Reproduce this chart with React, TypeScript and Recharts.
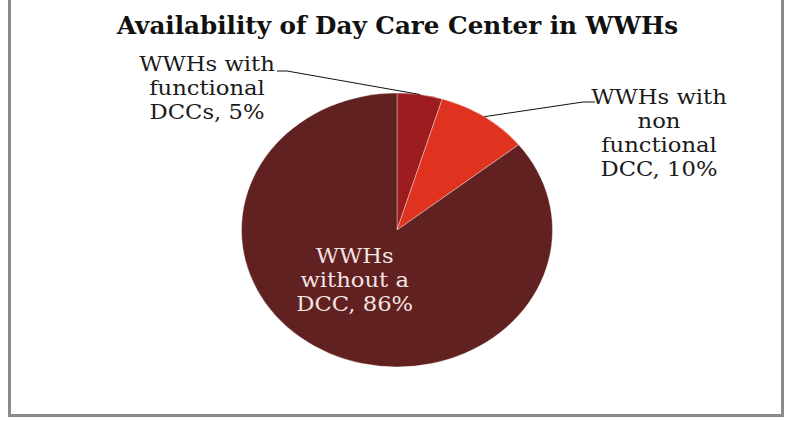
import React from 'react';
import { Pie, PieChart } from 'recharts';

// slice data (clockwise from 12 o'clock)
const SLICE_NAMES = ['WWHs with functional DCCs', 'WWHs with non functional DCC', 'WWHs without a DCC'];
const SLICE_VALUES = [4.7, 9.6, 85.7];
const SLICE_COLORS = ['#9c1c20', '#df3320', '#612120'];
// how each label is broken into lines (last line gets the percent appended)
const LABEL_LINES = [
  ['WWHs with', 'functional', 'DCCs'],
  ['WWHs with', 'non', 'functional', 'DCC'],
  ['WWHs', 'without a', 'DCC'],
];
const TITLE = 'Availability of Day Care Center in WWHs';

const WIDTH = 802;
const HEIGHT = 421;
const STRETCH = 1.135; // the source image is stretched horizontally
const RAD = Math.PI / 180;
const FONT = '"DejaVu Serif", serif';
const LINE_GAP = 24;

// where the labels sit; leader lines start at the slice edge (midAngle)
const LABEL_LAYOUT = [
  { inside: false, textX: 207, firstBaseline: 71, elbowFrom: 277, elbowTo: 287, elbowY: 71 },
  { inside: false, textX: 659, firstBaseline: 104, elbowFrom: 595, elbowTo: 583, elbowY: 102 },
  { inside: true, radiusFrac: 0.455, angleShift: -11 },
];

const data = SLICE_NAMES.map((name, i) => ({
  name,
  value: SLICE_VALUES[i],
  fill: SLICE_COLORS[i],
}));

function ellipsePoint(cx: number, cy: number, r: number, angle: number) {
  return {
    x: cx + r * STRETCH * Math.cos(-angle * RAD),
    y: cy + r * Math.sin(-angle * RAD),
  };
}

function EllipseSector(props: any) {
  const { cx, cy, outerRadius, startAngle, endAngle, fill } = props;
  const start = ellipsePoint(cx, cy, outerRadius, startAngle);
  const end = ellipsePoint(cx, cy, outerRadius, endAngle);
  const delta = Math.abs(startAngle - endAngle);
  const largeArc = delta > 180 ? 1 : 0;
  const sweep = startAngle > endAngle ? 1 : 0;
  const d = `M ${cx},${cy} L ${start.x},${start.y} A ${outerRadius * STRETCH},${outerRadius} 0 ${largeArc} ${sweep} ${end.x},${end.y} Z`;
  return <path d={d} fill={fill} stroke="#ffffff" strokeOpacity={0.45} strokeWidth={0.8} />;
}

function StretchedText({ x, y, text, fill, size = 20, weight = 'normal', length }: any) {
  return (
    <text
      transform={`translate(${x},${y}) scale(${STRETCH},1)`}
      x={0}
      y={0}
      textAnchor="middle"
      fill={fill}
      fontFamily={FONT}
      fontSize={size}
      fontWeight={weight}
      textLength={length}
      lengthAdjust={length ? 'spacingAndGlyphs' : undefined}
    >
      {text}
    </text>
  );
}

function renderLabel(props: any) {
  const { cx, cy, midAngle, outerRadius, index, percent } = props;
  const layout: any = LABEL_LAYOUT[index];
  const lines = [...LABEL_LINES[index]];
  lines[lines.length - 1] = `${lines[lines.length - 1]}, ${Math.round(percent * 100)}%`;

  if (layout.inside) {
    const p = ellipsePoint(cx, cy, outerRadius * layout.radiusFrac, midAngle + layout.angleShift);
    const first = p.y - ((lines.length - 1) * LINE_GAP) / 2 + 7;
    return (
      <g>
        {lines.map((line, i) => (
          <StretchedText key={i} x={p.x} y={first + i * LINE_GAP} text={line} fill="#f1e4e4" />
        ))}
      </g>
    );
  }

  const edge = ellipsePoint(cx, cy, outerRadius, midAngle);
  return (
    <g>
      <polyline
        points={`${edge.x},${edge.y} ${layout.elbowTo},${layout.elbowY} ${layout.elbowFrom},${layout.elbowY}`}
        fill="none"
        stroke="#111111"
        strokeWidth={1}
      />
      {lines.map((line, i) => (
        <StretchedText
          key={i}
          x={layout.textX}
          y={layout.firstBaseline + i * LINE_GAP}
          text={line}
          fill="#1a1a1a"
        />
      ))}
    </g>
  );
}

export default function App() {
  return (
    <div style={{ position: 'fixed', left: 0, top: 0, width: WIDTH, height: HEIGHT, background: '#ffffff' }}>
      <div
        style={{
          position: 'absolute',
          left: 8,
          top: -4,
          width: 776,
          height: 421,
          boxSizing: 'border-box',
          border: '3px solid #8a8a8a',
        }}
      />
      <div style={{ position: 'absolute', left: 0, top: 0 }}>
        <PieChart width={WIDTH} height={HEIGHT} margin={{ top: 0, right: 0, bottom: 0, left: 0 }}>
          <StretchedText
            x={397.5}
            y={34}
            text={TITLE}
            fill="#111111"
            size={24}
            weight="bold"
            length={561 / STRETCH}
          />
          <Pie
            data={data}
            dataKey="value"
            nameKey="name"
            cx={397}
            cy={230}
            outerRadius={137}
            startAngle={90}
            endAngle={-270}
            shape={EllipseSector}
            activeShape={EllipseSector}
            inactiveShape={EllipseSector}
            label={renderLabel}
            labelLine={false}
            isAnimationActive={false}
          />
        </PieChart>
      </div>
    </div>
  );
}
